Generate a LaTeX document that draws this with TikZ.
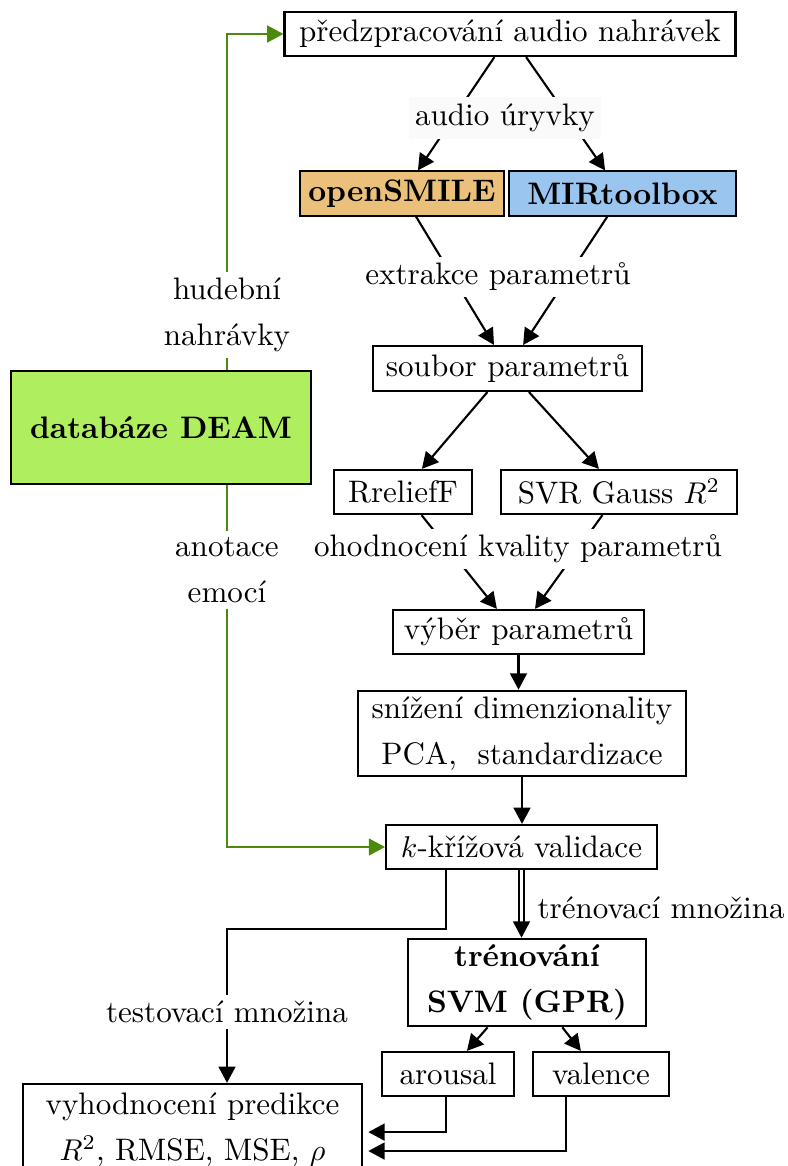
\documentclass[tikz,border=0pt]{standalone}
\usepackage{amsmath}
\usepackage{xcolor}
\usepackage{tikz}
\usetikzlibrary{arrows.meta}
\usetikzlibrary{calc}

\definecolor{deamfill}{RGB}{175,239,95}
\definecolor{deamline}{RGB}{75,138,10}
\definecolor{smilefill}{RGB}{235,192,123}
\definecolor{mirfill}{RGB}{154,197,239}

\begin{document}
\begin{tikzpicture}[x=0.333pt, y=-0.333pt,
  every node/.append style={font=\fontsize{10.35pt}{15.3pt}\selectfont},
  box/.style={draw, line width=0.7pt, minimum height=14.7pt, inner sep=2pt, align=center},
  lab/.style={fill=white, inner sep=2pt, align=center},
  arr/.style={line width=0.7pt, -{Triangle[length=5.4pt,width=5.6pt]}},
  garr/.style={arr, deamline}]

\useasboundingbox (0,0) rectangle (787,1166);

% boxes
\node[box, minimum width=150.2pt] (1) at (510,34) {předzpracování audio nahrávek};
\node[box, fill=smilefill, minimum width=68pt] (2) at (402,193.5) {\textbf{openSMILE}};
\node[box, fill=mirfill, minimum width=75.6pt] (3) at (622.5,193.5) {\textbf{MIRtoolbox}};
\node[box, minimum width=89.6pt, minimum height=15pt] (4) at (507.5,368.5) {soubor parametrů};
\node[box, fill=deamfill, minimum width=100pt, minimum height=37.6pt] (5) at (161,427.5) {\textbf{databáze DEAM}};
\node[box, minimum width=46pt] (6) at (403,492) {RreliefF};
\node[box, minimum width=78.6pt] (7) at (619,492) {SVR Gauss $R^2$};
\node[box, minimum width=83.6pt] (8) at (518.5,632) {výběr parametrů};
\node[box, minimum width=109.2pt, minimum height=27pt] (9) at (522,733.5) {snížení dimenzionality\\PCA,\ \ standardizace};
\node[box, minimum width=90.2pt] (10) at (521.5,847) {$k$-křížová validace};
\node[box, minimum width=79.3pt, minimum height=27.6pt] (11) at (527,982.5) {\textbf{trénování}\\\textbf{SVM (GPR)}};
\node[box, minimum width=44pt] (12) at (448,1074) {arousal};
\node[box, minimum width=45.3pt] (13) at (601,1074) {valence};
\node[box, minimum width=113pt, minimum height=30.7pt] (14) at (192.5,1130) {vyhodnocení predikce\\$R^2$, RMSE, MSE, $\rho$};

% connectors
\path[draw, arr] (1) -- ([xshift=5.3pt]2.north);
\path[draw, arr] (1) -- ([xshift=-5.8pt]3.north);
\path[draw, arr] (2) -- ([xshift=-4.5pt]4.north);
\path[draw, arr] (3) -- ([xshift=5.2pt]4.north);
\path[draw, arr] (4) -- ([xshift=6.3pt]6.north);
\path[draw, arr] (4) -- ([xshift=-6.7pt]7.north);
\path[draw, arr] (6) -- ([xshift=-7.2pt]8.north);
\path[draw, arr] (7) -- ([xshift=5.5pt]8.north);
\path[draw, arr] (8.south) -- (8.south |- 9.north);
\path[draw, arr] (9.south) -- (9.south |- 10.north);
\path[draw, arr, line width=0.65pt, double, double distance=1.3pt] (10.south) -- (10.south |- 11.north);
\path[draw, arr] (11) -- ([xshift=6.3pt]12.north);
\path[draw, arr] (11) -- ([xshift=-6.7pt]13.north);

\coordinate (t) at (227,929);
\path[draw, arr] ([xshift=-25.2pt]10.south) |- (t) -- (t |- 14.north);
\path[draw, arr, shorten >=1.7pt] ([xshift=-0.7pt]12.south) |- ([yshift=-0.7pt]14.east);
\path[draw, arr, shorten >=1.7pt] ([xshift=-11.7pt]13.south) |- ([yshift=-7pt]14.east);

\path[draw, garr] ([xshift=22pt]5.north) |- (1.west);
\path[draw, garr] ([xshift=22pt]5.south) |- (10.west);

% labels
\node[lab, fill=black!2, minimum width=60.3pt, minimum height=14pt] (a) at (505,118) {audio úryvky};
\node[lab] (b) at (498,277) {extrakce parametrů};
\node[lab] (c) at (518,549) {ohodnocení kvality parametrů};
\node[lab] (d) at (227,315) {hudební\\nahrávky};
\node[lab] (e) at (227,570) {anotace\\emocí};
\node[lab] (f) at (227,1012) {testovací množina};
\node[anchor=west, inner sep=0pt] (g) at (537,908) {trénovací množina};

\end{tikzpicture}
\end{document}
